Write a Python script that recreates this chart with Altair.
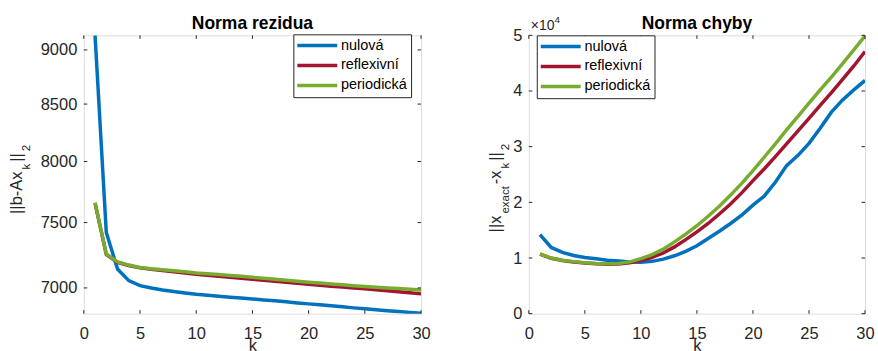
import altair as alt
import pandas as pd

# ---------------- data ----------------
k_values = list(range(1, 31))
series_names = ["nulová", "reflexivní", "periodická"]
series_colors = ["#0072BD", "#A2142F", "#77AC30"]

# Norma rezidua  ||b - A x_k||_2
res_nulova = [9140, 7422, 7141, 7054, 7017, 7000, 6985, 6973, 6963, 6953,
              6946, 6939, 6932, 6926, 6919, 6912, 6905, 6898, 6890, 6883,
              6876, 6869, 6862, 6854, 6847, 6840, 6834, 6828, 6821, 6815]
res_reflexivni = [7655, 7252, 7192, 7168, 7150, 7139, 7130, 7121, 7111, 7101,
                  7094, 7087, 7080, 7072, 7064, 7057, 7049, 7042, 7034, 7027,
                  7020, 7013, 7006, 7000, 6993, 6986, 6979, 6972, 6964, 6956]
res_periodicka = [7660, 7255, 7195, 7171, 7153, 7143, 7136, 7128, 7120, 7111,
                  7105, 7099, 7092, 7086, 7079, 7072, 7064, 7057, 7049, 7042,
                  7036, 7029, 7023, 7016, 7010, 7005, 7000, 6995, 6990, 6985]

# Norma chyby  ||x_exact - x_k||_2
err_nulova = [14200, 11900, 11000, 10450, 10100, 9850, 9600, 9450, 9300, 9250,
              9400, 9800, 10400, 11200, 12200, 13500, 14800, 16200, 17700, 19500,
              21100, 23600, 26600, 28400, 30600, 33300, 36200, 38400, 40200, 41900]
err_reflexivni = [10700, 9950, 9550, 9300, 9100, 8950, 8900, 8930, 9150, 9550,
                  10100, 10900, 12000, 13300, 14700, 16200, 17900, 19700, 21700, 23900,
                  26000, 28200, 30500, 32800, 35100, 37400, 39700, 42100, 44500, 47100]
err_periodicka = [10750, 10000, 9600, 9350, 9150, 9000, 8950, 9000, 9300, 9900,
                  10600, 11600, 12900, 14300, 15800, 17500, 19300, 21300, 23400, 25700,
                  28100, 30500, 33000, 35400, 37800, 40200, 42500, 44900, 47400, 49900]

x_ticks = [0, 5, 10, 15, 20, 25, 30]
res_ticks = [7000, 7500, 8000, 8500, 9000]
err_ticks = [0, 10000, 20000, 30000, 40000, 50000]

# ---------------- styling ----------------
FONT = "Liberation Sans"
AX = "#262626"
W1, W2, H = 338, 337, 279
TL = 3.5  # inward tick length

color_scale = alt.Scale(domain=series_names, range=series_colors)
x_scale = alt.Scale(domain=[0, 30], nice=False, zero=False)
res_scale = alt.Scale(type="log", domain=[6812, 9140], nice=False)
err_scale = alt.Scale(domain=[0, 50000], nice=False, zero=False)


def long_df(series):
    rows = []
    for name, vals in zip(series_names, series):
        for kk, v in zip(k_values, vals):
            rows.append({"k": kk, "v": v, "s": name})
    return pd.DataFrame(rows)


def make_legend(x, y):
    return alt.Legend(
        title=None, orient="none", legendX=x, legendY=y,
        symbolType="M-4,0H4", symbolSize=100, symbolStrokeWidth=3.5,
        symbolOffset=12.75, labelOffset=16.5,
        labelFont=FONT, labelFontSize=14.5, labelColor="black", labelLimit=0,
        padding=4, rowPadding=4, strokeColor=AX, fillColor="white",
    )


def x_axis():
    return alt.Axis(
        values=x_ticks, title="k", ticks=False, tickSize=0, domain=False, grid=False,
        labelFlush=False, labelFont=FONT, labelFontSize=16.5, labelColor=AX,
        labelBaseline="alphabetic", labelPadding=25,
        titleFont=FONT, titleFontSize=16.5, titleFontWeight="normal", titleColor=AX,
        titleBaseline="alphabetic", titleY=37,
    )


def y_axis(values, fmt=None, expr=None):
    kw = dict(values=values, title=None, ticks=False, tickSize=0, domain=False, grid=False,
              labelFont=FONT, labelFontSize=16.5, labelColor=AX, labelPadding=7,
              labelOverlap=False)
    if fmt:
        kw["format"] = fmt
    if expr:
        kw["labelExpr"] = expr
    return alt.Axis(**kw)


def tick_layers(yscale, yvals, width):
    # inward tick marks on all four sides (fields share the line layer's axes)
    xt = pd.DataFrame({"k": x_ticks})
    yt = pd.DataFrame({"v": yvals})
    xs = alt.X("k:Q", scale=x_scale)
    ys = alt.Y("v:Q", scale=yscale)
    rule = dict(color=AX, strokeWidth=1)
    return [
        alt.Chart(xt).mark_rule(**rule).encode(x=xs, y=alt.value(H), y2=alt.value(H - TL)),
        alt.Chart(xt).mark_rule(**rule).encode(x=xs, y=alt.value(0), y2=alt.value(TL)),
        alt.Chart(yt).mark_rule(**rule).encode(y=ys, x=alt.value(0), x2=alt.value(TL)),
        alt.Chart(yt).mark_rule(**rule).encode(y=ys, x=alt.value(width - TL), x2=alt.value(width)),
    ]


def text(s, x, y, size, angle=0, weight="normal", align="left", color=AX):
    return alt.Chart(pd.DataFrame({"s": [s]})).mark_text(
        font=FONT, fontSize=size, fontWeight=weight, angle=angle,
        align=align, baseline="alphabetic", color=color,
    ).encode(text="s:N", x=alt.value(x), y=alt.value(y))


def anchor(x, y):
    # invisible 1px box fixing the outer bounds of the figure
    return alt.Chart(pd.DataFrame({"a": [0]})).mark_rect(opacity=0).encode(
        x=alt.value(x), x2=alt.value(x + 1), y=alt.value(y), y2=alt.value(y + 1)
    )


WIDTHS = {'|': 0.26, 'b': 0.556, '-': 0.333, 'A': 0.667, 'x': 0.5, 'k': 0.5,
          '2': 0.556, 'e': 0.556, 'a': 0.556, 'c': 0.5, 't': 0.278}


def vertical_label(segments, start_y, main_x, sub_x, main_fs=16.5, sub_fs=11.5, gap=2.0):
    layers = []
    y = start_y
    prev_sub = None
    for s, is_sub in segments:
        if prev_sub is not None and prev_sub != is_sub:
            y -= gap
        fs = sub_fs if is_sub else main_fs
        layers.append(text(s, sub_x if is_sub else main_x, y, fs, angle=270, color=AX))
        y -= sum(WIDTHS.get(c, 0.55) for c in s) * fs
        prev_sub = is_sub
    return layers


# ---------------- left panel ----------------
res_lines = alt.Chart(long_df([res_nulova, res_reflexivni, res_periodicka])).mark_line(
    strokeWidth=3.5, clip=True
).encode(
    x=alt.X("k:Q", scale=x_scale, axis=x_axis()),
    y=alt.Y("v:Q", scale=res_scale, axis=y_axis(res_ticks, fmt="d")),
    color=alt.Color("s:N", scale=color_scale, sort=series_names, legend=make_legend(210, -1)),
)

left = alt.layer(
    res_lines,
    *tick_layers(res_scale, res_ticks, W1),
    text("Norma rezidua", W1 / 2, -6, 17.5, weight="bold", align="center", color="black"),
    *vertical_label([("||b-Ax", False), ("k", True), ("||", False), ("2", True)],
                    start_y=179, main_x=-62.3, sub_x=-53.5),
    anchor(-83, -34),
).properties(width=W1, height=H)

# ---------------- right panel ----------------
err_lines = alt.Chart(long_df([err_nulova, err_reflexivni, err_periodicka])).mark_line(
    strokeWidth=3.5, clip=True
).encode(
    x=alt.X("k:Q", scale=x_scale, axis=x_axis()),
    y=alt.Y("v:Q", scale=err_scale, axis=y_axis(err_ticks, expr="datum.value / 10000")),
    color=alt.Color("s:N", scale=color_scale, sort=series_names, legend=make_legend(8, 0)),
)

right = alt.layer(
    err_lines,
    *tick_layers(err_scale, err_ticks, W2),
    text("Norma chyby", W2 / 2, -6, 17.5, weight="bold", align="center", color="black"),
    text("×10", 2, -5, 14),
    text("4", 25.7, -12, 10),
    *vertical_label([("||x", False), ("exact", True), ("-x", False), ("k", True),
                     ("||", False), ("2", True)],
                    start_y=197.5, main_x=-27.7, sub_x=-20),
    anchor(W2 + 11, H + 37),
).properties(width=W2, height=H)

chart = alt.hconcat(left, right, spacing=108, bounds="flush").resolve_scale(
    color="independent"
).properties(
    autosize=alt.AutoSizeParams(type="pad"),
    padding=0,
).configure_view(stroke=AX, strokeWidth=1).configure(font=FONT)

chart.save("out.html", embed_options={"renderer": "svg", "actions": False})
